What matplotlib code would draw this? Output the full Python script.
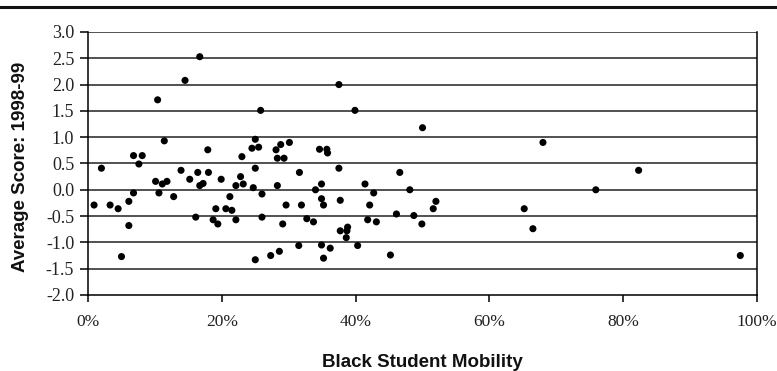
######################################################################
# Scatter plot: average score vs black student mobility
######################################################################

import matplotlib
matplotlib.use("Agg")
import matplotlib.pyplot as plt
from matplotlib.lines import Line2D

# mobility (percent) and average score
mobility = [0.9, 2.0, 3.3, 4.5, 5.0, 6.1, 6.1, 6.8, 6.8, 7.6, 8.1, 10.1, 10.4,
            10.6, 11.1, 11.4, 11.8, 12.8, 13.9, 14.5, 15.2, 16.1, 16.4, 16.7,
            16.7, 17.2, 17.9, 18.0, 18.7, 19.1, 19.4, 19.9, 20.6, 21.2, 21.5,
            22.1, 22.1, 22.8, 23.0, 23.2, 24.5, 24.7, 25.0, 25.0, 25.0, 25.5,
            25.8, 26.0, 26.0, 27.3, 28.1, 28.3, 28.3, 28.6, 28.8, 29.1, 29.3,
            29.6, 30.1, 31.5, 31.6, 31.9, 32.7, 33.7, 34.0, 34.6, 34.9, 34.9,
            34.9, 35.2, 35.2, 35.7, 35.8, 36.2, 37.5, 37.5, 37.7, 37.7, 38.6,
            38.7, 38.8, 39.9, 40.3, 41.4, 41.8, 42.1, 42.7, 43.1, 45.2, 46.1,
            46.6, 48.1, 48.7, 49.9, 50.0, 51.6, 52.0, 65.2, 66.5, 68.0, 75.9,
            82.3, 97.5]
score = [-0.29, 0.41, -0.29, -0.36, -1.27, -0.22, -0.68, 0.65, -0.06, 0.49,
         0.65, 0.16, 1.71, -0.06, 0.11, 0.93, 0.16, -0.13, 0.37, 2.08, 0.20,
         -0.52, 0.33, 2.53, 0.08, 0.12, 0.76, 0.33, -0.57, -0.36, -0.65, 0.20,
         -0.36, -0.13, -0.39, 0.08, -0.57, 0.25, 0.63, 0.11, 0.79, 0.04, 0.96,
         0.41, -1.33, 0.81, 1.51, -0.08, -0.52, -1.25, 0.76, 0.60, 0.08, -1.17,
         0.86, -0.65, 0.60, -0.29, 0.90, -1.06, 0.33, -0.29, -0.55, -0.61,
         0.00, 0.77, 0.11, -0.17, -1.05, -0.29, -1.30, 0.77, 0.70, -1.11, 2.00,
         0.41, -0.20, -0.78, -0.91, -0.78, -0.71, 1.51, -1.06, 0.11, -0.57,
         -0.29, -0.06, -0.61, -1.24, -0.46, 0.33, 0.00, -0.49, -0.65, 1.18,
         -0.36, -0.22, -0.36, -0.74, 0.90, 0.00, 0.37, -1.25]

y_ticks = [3.0, 2.5, 2.0, 1.5, 1.0, 0.5, 0.0, -0.5, -1.0, -1.5, -2.0]
x_ticks = [0, 20, 40, 60, 80, 100]

######################################################################
# draw
######################################################################

fig = plt.figure(figsize = (7.77, 3.71), dpi = 100)
ax = fig.add_axes([0.1133, 0.2049, 0.861, 0.7089])

ax.scatter([m / 100 for m in mobility], score, s = 26, color = "black",
           edgecolors = "none", zorder = 3)

ax.set_xlim(0, 1)
ax.set_ylim(-2.0, 3.0)
ax.set_yticks(y_ticks)
ax.set_yticklabels([f"{v:.1f}" for v in y_ticks])
ax.set_xticks([t / 100 for t in x_ticks])
ax.set_xticklabels([f"{t}%" for t in x_ticks])

for v in y_ticks[:-1]:
    ax.axhline(v, color = "#222222", lw = 1.1, zorder = 1)

for side in ["left", "right", "bottom"]:
    ax.spines[side].set_color("black")
    ax.spines[side].set_linewidth(1.1)
ax.spines["top"].set_visible(False)

ax.tick_params(axis = "y", direction = "out", length = 6, width = 1.1,
               color = "black", pad = 4)
ax.tick_params(axis = "x", direction = "out", length = 5, width = 1.1,
               color = "black", pad = 9)
for lab in ax.get_yticklabels():
    lab.set_fontfamily("Liberation Serif")
    lab.set_fontsize(13)
    lab.set_color("#222222")
for lab in ax.get_xticklabels():
    lab.set_fontfamily("Liberation Serif")
    lab.set_fontsize(12.5)
    lab.set_color("#222222")

fig.text(0.5438, 0.010, "Black Student Mobility", fontfamily = "Liberation Sans",
         fontweight = "bold", fontsize = 13.5, ha = "center", va = "baseline",
         color = "#111111")
fig.text(0.0261, 0.5507, "Average Score: 1998-99", fontfamily = "Liberation Sans",
         fontweight = "bold", fontsize = 13.5, ha = "center", va = "center",
         rotation = 90, color = "#111111")

# thick rule across the top of the figure
fig.add_artist(Line2D([0, 1], [0.982, 0.982], color = "#111111", lw = 2.2,
                      transform = fig.transFigure))

fig.savefig("out.png", dpi = 100)
